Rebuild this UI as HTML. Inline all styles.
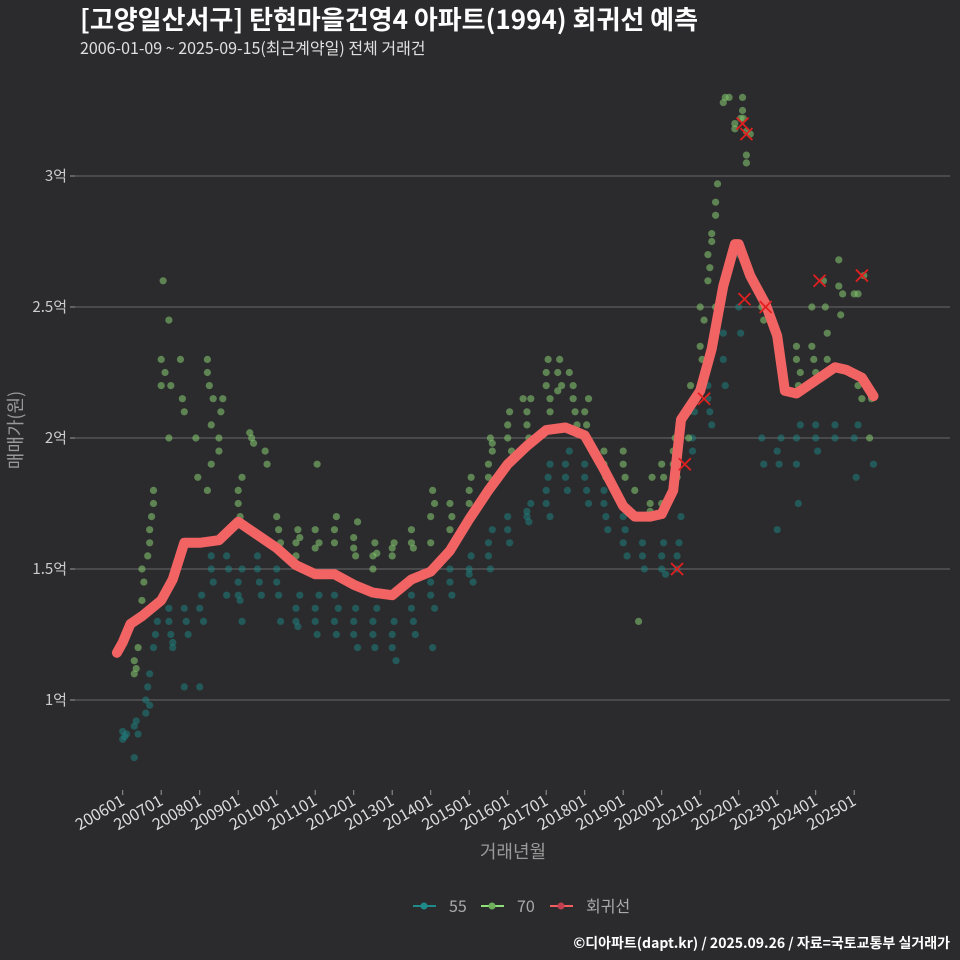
<!DOCTYPE html>
<html><head><meta charset="utf-8"><style>
html,body{margin:0;background:#2b2b2d;overflow:hidden;width:960px;height:960px;}
svg{display:block;}
svg text{font-family:"Noto Sans CJK KR","Liberation Sans",sans-serif;}
</style></head><body>
<svg id="c" width="960" height="960" xmlns="http://www.w3.org/2000/svg">
<rect width="960" height="960" fill="#2b2b2d"/>
<text x="80" y="29" font-size="26" font-weight="bold" fill="#ffffff">[고양일산서구] 탄현마을건영4 아파트(1994) 회귀선 예측</text>
<text x="80" y="54" font-size="16" fill="#e0e0e0">2006-01-09 ~ 2025-09-15(최근계약일) 전체 거래건</text>
<g id="grid"></g>
<g id="pts"></g>
<g id="line"></g>
<g id="xs"></g>
<g id="xax"></g>
<text x="22" y="430" font-size="18" fill="#999" text-anchor="middle" transform="rotate(-90 22 430)">매매가(원)</text>
<text x="513" y="858" font-size="18" fill="#999" text-anchor="middle">거래년월</text>
<g>
<g><line x1="413" y1="906" x2="436" y2="906" stroke="#1f8a8a" stroke-width="2"/><circle cx="424" cy="906" r="3.5" fill="#1f8a8a"/><text x="449" y="912" font-size="16" fill="#aaa">55</text></g>
<g><line x1="481" y1="906" x2="504" y2="906" stroke="#8fe07a" stroke-width="2"/><circle cx="492" cy="906" r="3.5" fill="#6fb05a"/><text x="517" y="912" font-size="16" fill="#aaa">70</text></g>
<g><line x1="550" y1="906" x2="573" y2="906" stroke="#f06060" stroke-width="2"/><circle cx="561" cy="906" r="3.5" fill="#c04050"/><text x="586" y="912" font-size="16" fill="#aaa">회귀선</text></g>
</g>
<text x="950" y="948" font-size="14" font-weight="bold" fill="#fff" text-anchor="end">©디아파트(dapt.kr) / 2025.09.26 / 자료=국토교통부 실거래가</text>
</svg>
<script>
const yTicks=[1,1.5,2,2.5,3];
const yTickLabels=["1억","1.5억","2억","2.5억","3억"];
const xTickYears=[2006,2007,2008,2009,2010,2011,2012,2013,2014,2015,2016,2017,2018,2019,2020,2021,2022,2023,2024,2025];
const xTickLabels=["200601","200701","200801","200901","201001","201101","201201","201301","201401","201501","201601","201701","201801","201901","202001","202101","202201","202301","202401","202501"];
const regYears=[2005.85,2006.0,2006.2,2006.5,2007.0,2007.3,2007.6,2008.0,2008.5,2009.0,2009.5,2010.0,2010.5,2011.0,2011.5,2012.0,2012.5,2013.0,2013.5,2014.0,2014.5,2015.0,2015.5,2016.0,2016.5,2017.0,2017.5,2018.0,2018.5,2019.0,2019.3,2019.7,2020.0,2020.3,2020.5,2021.0,2021.3,2021.6,2021.9,2022.0,2022.3,2022.7,2023.0,2023.2,2023.5,2023.8,2024.0,2024.5,2024.8,2025.2,2025.5];
const regValues=[1.18,1.22,1.29,1.32,1.38,1.46,1.60,1.60,1.61,1.68,1.63,1.58,1.515,1.48,1.48,1.44,1.41,1.40,1.46,1.49,1.57,1.69,1.80,1.90,1.97,2.03,2.04,2.01,1.88,1.74,1.70,1.70,1.71,1.80,2.07,2.18,2.34,2.58,2.74,2.74,2.62,2.51,2.39,2.18,2.17,2.20,2.22,2.27,2.26,2.23,2.16];
const s70=[[2006.3,1.1],[2006.3,1.15],[2006.35,1.12],[2006.4,1.2],[2006.5,1.38],[2006.5,1.5],[2006.55,1.45],[2006.7,1.6],[2006.7,1.65],[2006.75,1.7],[2006.8,1.75],[2006.8,1.8],[2006.65,1.55],[2007.0,2.2],[2007.0,2.3],[2007.05,2.6],[2007.1,2.25],[2007.2,2.45],[2007.2,2.0],[2007.25,2.2],[2007.5,2.3],[2007.55,2.15],[2007.6,2.1],[2007.9,2.0],[2007.95,1.85],[2008.2,2.3],[2008.2,2.25],[2008.25,2.2],[2008.3,1.9],[2008.3,2.05],[2008.35,2.15],[2008.2,1.8],[2008.5,2.0],[2008.5,1.95],[2008.55,2.1],[2008.6,2.15],[2009.0,1.75],[2009.0,1.8],[2009.05,1.7],[2009.1,1.85],[2009.3,2.02],[2009.35,2.0],[2009.4,1.98],[2009.7,1.95],[2009.75,1.9],[2010.0,1.7],[2010.05,1.65],[2010.1,1.6],[2010.5,1.6],[2010.5,1.55],[2010.55,1.65],[2010.6,1.62],[2011.0,1.58],[2011.0,1.65],[2011.05,1.9],[2011.1,1.6],[2011.5,1.6],[2011.5,1.65],[2011.55,1.7],[2012.0,1.58],[2012.0,1.62],[2012.05,1.55],[2012.1,1.68],[2012.5,1.5],[2012.5,1.55],[2012.55,1.6],[2012.6,1.56],[2013.0,1.55],[2013.0,1.58],[2013.05,1.6],[2013.5,1.6],[2013.5,1.65],[2013.55,1.58],[2014.0,1.6],[2014.0,1.7],[2014.05,1.8],[2014.1,1.75],[2014.5,1.65],[2014.5,1.75],[2014.55,1.7],[2015.0,1.8],[2015.0,1.75],[2015.05,1.85],[2015.1,1.72],[2015.5,1.85],[2015.5,1.9],[2015.55,2.0],[2015.6,1.95],[2015.6,1.98],[2016.0,2.0],[2016.0,2.05],[2016.05,2.1],[2016.1,1.95],[2016.5,2.1],[2016.5,2.05],[2016.55,2.0],[2016.6,2.15],[2016.4,2.15],[2017.0,2.2],[2017.0,2.25],[2017.05,2.3],[2017.1,2.15],[2017.1,2.1],[2017.3,2.25],[2017.35,2.3],[2017.4,2.2],[2017.3,2.18],[2017.7,2.2],[2017.7,2.15],[2017.75,2.1],[2017.8,2.05],[2017.6,2.25],[2018.0,2.1],[2018.05,2.05],[2018.1,2.15],[2018.5,1.95],[2018.5,1.9],[2018.55,1.85],[2019.0,1.9],[2019.0,1.95],[2019.05,1.85],[2019.3,1.8],[2019.3,1.7],[2019.4,1.3],[2019.7,1.75],[2019.7,1.72],[2019.75,1.85],[2020.0,1.9],[2020.0,1.75],[2020.05,1.85],[2020.3,1.9],[2020.3,1.95],[2020.35,2.0],[2020.4,1.85],[2020.7,2.0],[2020.7,2.1],[2020.75,2.2],[2021.0,2.35],[2021.0,2.5],[2021.05,2.3],[2021.1,2.45],[2021.2,2.6],[2021.2,2.7],[2021.25,2.65],[2021.3,2.75],[2021.3,2.78],[2021.4,2.85],[2021.4,2.9],[2021.45,2.97],[2021.4,2.5],[2021.6,3.28],[2021.65,3.3],[2021.75,3.3],[2021.55,2.55],[2021.9,3.2],[2021.9,3.18],[2022.1,3.3],[2022.05,3.22],[2022.1,3.25],[2022.12,3.22],[2022.2,3.17],[2022.2,3.08],[2022.2,3.05],[2022.3,3.16],[2022.6,2.5],[2022.65,2.45],[2023.0,2.4],[2023.05,2.3],[2023.5,2.3],[2023.5,2.35],[2023.55,2.2],[2023.6,2.25],[2023.9,2.5],[2023.9,2.35],[2023.95,2.3],[2024.0,2.25],[2024.2,2.6],[2024.25,2.5],[2024.3,2.3],[2024.3,2.4],[2024.6,2.68],[2024.6,2.58],[2024.65,2.47],[2024.7,2.55],[2025.0,2.55],[2025.1,2.55],[2025.25,2.62],[2025.1,2.2],[2025.2,2.15],[2025.4,2.0],[2025.45,2.15]];
const s55=[[2006.0,0.85],[2006.0,0.88],[2006.05,0.86],[2006.1,0.87],[2006.3,0.78],[2006.3,0.9],[2006.35,0.92],[2006.4,0.87],[2006.6,0.95],[2006.6,1.0],[2006.65,1.05],[2006.7,1.1],[2006.7,0.98],[2006.8,1.2],[2006.85,1.25],[2006.9,1.3],[2007.2,1.35],[2007.2,1.3],[2007.25,1.25],[2007.3,1.2],[2007.3,1.22],[2007.6,1.05],[2007.6,1.35],[2007.65,1.3],[2007.7,1.25],[2008.0,1.05],[2008.0,1.35],[2008.05,1.4],[2008.1,1.3],[2008.3,1.5],[2008.3,1.55],[2008.35,1.45],[2008.7,1.55],[2008.7,1.4],[2008.75,1.5],[2009.0,1.4],[2009.0,1.45],[2009.05,1.38],[2009.1,1.5],[2009.1,1.3],[2009.5,1.5],[2009.5,1.55],[2009.55,1.45],[2009.6,1.4],[2010.0,1.5],[2010.0,1.45],[2010.05,1.4],[2010.1,1.3],[2010.5,1.35],[2010.5,1.3],[2010.55,1.28],[2010.6,1.4],[2011.0,1.35],[2011.0,1.3],[2011.05,1.25],[2011.1,1.4],[2011.5,1.4],[2011.5,1.3],[2011.55,1.25],[2011.6,1.35],[2012.0,1.3],[2012.0,1.25],[2012.05,1.35],[2012.1,1.2],[2012.5,1.3],[2012.5,1.25],[2012.55,1.2],[2012.6,1.35],[2012.6,1.4],[2013.0,1.2],[2013.0,1.25],[2013.05,1.3],[2013.1,1.15],[2013.5,1.35],[2013.5,1.4],[2013.55,1.3],[2013.6,1.25],[2014.0,1.45],[2014.0,1.4],[2014.05,1.2],[2014.1,1.35],[2014.5,1.5],[2014.5,1.45],[2014.55,1.4],[2015.0,1.5],[2015.0,1.48],[2015.05,1.55],[2015.1,1.45],[2015.5,1.55],[2015.5,1.6],[2015.55,1.5],[2015.6,1.65],[2016.0,1.65],[2016.0,1.7],[2016.05,1.6],[2016.5,1.7],[2016.5,1.72],[2016.55,1.68],[2016.6,1.75],[2017.0,1.8],[2017.0,1.75],[2017.05,1.85],[2017.1,1.9],[2017.1,1.7],[2017.5,1.85],[2017.5,1.9],[2017.55,1.8],[2017.6,1.95],[2018.0,1.85],[2018.0,1.9],[2018.05,1.8],[2018.1,1.75],[2018.5,1.8],[2018.5,1.75],[2018.55,1.7],[2018.6,1.65],[2019.0,1.7],[2019.0,1.6],[2019.05,1.65],[2019.1,1.55],[2019.5,1.6],[2019.5,1.55],[2019.55,1.5],[2020.0,1.5],[2020.0,1.55],[2020.05,1.6],[2020.1,1.48],[2020.4,1.55],[2020.4,1.5],[2020.45,1.6],[2020.5,1.7],[2020.8,1.95],[2020.8,2.0],[2020.85,2.1],[2021.2,2.15],[2021.2,2.2],[2021.25,2.1],[2021.3,2.05],[2021.6,2.3],[2021.6,2.4],[2021.65,2.2],[2022.0,2.7],[2022.0,2.5],[2022.05,2.4],[2022.6,2.0],[2022.65,1.9],[2023.0,1.65],[2023.0,1.95],[2023.05,1.9],[2023.1,2.0],[2023.5,2.0],[2023.5,1.9],[2023.55,1.75],[2023.6,2.05],[2024.0,2.0],[2024.0,2.05],[2024.05,1.95],[2024.5,2.0],[2024.5,2.05],[2025.0,2.0],[2025.05,1.85],[2025.1,2.05],[2025.5,1.9]];
const cancelled=[[2022.1,3.2],[2022.2,3.16],[2022.15,2.53],[2022.7,2.5],[2024.1,2.6],[2025.2,2.62],[2020.4,1.5],[2021.1,2.15],[2020.6,1.9]];
const NS="http://www.w3.org/2000/svg";
const X=y=>122.7+(y-2006)*38.5;
const Y=v=>700-(v-1)*262;
function mk(tag,attrs,parent){const e=document.createElementNS(NS,tag);for(const k in attrs)e.setAttribute(k,attrs[k]);document.getElementById(parent).appendChild(e);return e;}
yTicks.forEach((t,i)=>{
 const l=mk('line',{x1:75,x2:950,y1:Y(t),y2:Y(t),stroke:'#6a6a6a','stroke-width':1},'grid');
 
 
 const k=mk('line',{x1:70,x2:75,y1:Y(t),y2:Y(t),stroke:'#999'},'grid');
 
 
 const tx=mk('text',{x:67,y:Y(t)+5,'font-size':15,fill:'#ccc','text-anchor':'end'},'grid');
 tx.textContent=yTickLabels[i];
 
 
});
xTickYears.forEach((yr,i)=>{
 const x=X(yr);
 const k=mk('line',{x1:x,x2:x,y1:790,y2:795,stroke:'#999'},'xax');
 
 
 const t=mk('text',{x:x+3,y:804,'font-size':16,fill:'#ddd','text-anchor':'end',transform:`rotate(-30 ${x+3} 804)`},'xax');
 t.textContent=xTickLabels[i];
 
 
});
s55.forEach(p=>{
 const c=mk('circle',{cx:X(p[0]),cy:Y(p[1]),r:3.6,fill:'#1f7f80','fill-opacity':0.55},'pts');
 
 
});
s70.forEach(p=>{
 const c=mk('circle',{cx:X(p[0]),cy:Y(p[1]),r:3.6,fill:'#7fc06a','fill-opacity':0.6},'pts');
 
 
});
const d=regYears.map((y,i)=>(i?'L':'M')+X(y).toFixed(1)+' '+Y(regValues[i]).toFixed(1)).join(' ');
const pl=mk('path',{d:d,fill:'none',stroke:'#f26464','stroke-width':10,'stroke-linejoin':'round','stroke-linecap':'round'},'line');


cancelled.forEach(p=>{
 const x=X(p[0]),y=Y(p[1]);
 const g=mk('path',{d:`M${x-6} ${y-6}L${x+6} ${y+6}M${x-6} ${y+6}L${x+6} ${y-6}`,stroke:'#e02020','stroke-width':1.8},'xs');
 
 
});
</script>
</body></html>
